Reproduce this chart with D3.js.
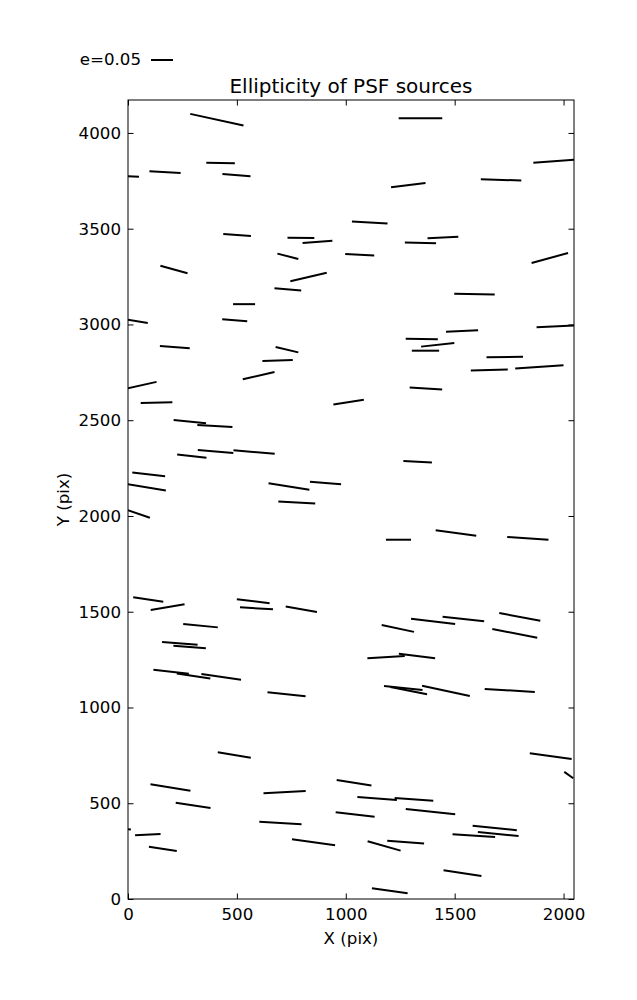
<!DOCTYPE html>
<html><head><meta charset="utf-8">
<script src="https://cdn.jsdelivr.net/npm/d3@7"></script>
<style>body{margin:0;background:#fff}svg{display:block}text{font-family:"DejaVu Sans",sans-serif;fill:#000}</style>
</head><body><div id="chart"></div>
<script>
// Whisker data: centre X, centre Y (pix), ellipticity e, position angle (deg, CCW from +X)
const xs = [408,1343,425,170,498,5,1110,1287,1713,1960,501,794,870,734,1064,211,829,734,533,23,490,215,730,687,1446,1343,1937,1591,1973,1534,1349,1422,1366,1730,1659,1889,64,600,131,1013,284,399,402,579,293,95,83,739,907,775,1368,1330,46,93,182,575,590,796,333,1242,1506,1836,1239,1401,1540,1799,1776,238,283,198,301,428,728,488,1185,1327,1264,1289,1460,1753,1941,2024,195,299,719,1038,1043,700,91,-12,160,852,1144,1313,1389,1176,1275,1684,1700,1588,1536,1202];
const ys = [4069,4077,3843,3795,3780,3774,3532,3728,3755,3853,3467,3452,3431,3356,3364,3287,3248,3183,3106,3020,3022,2882,2868,2812,3454,3426,3347,3158,2991,2966,2924,2894,2863,2830,2762,2779,2683,2733,2592,2594,2493,2470,2337,2334,2312,2217,2150,2154,2172,2070,2665,2283,2012,1564,1524,1555,1518,1513,1427,1876,1911,1883,1413,1450,1462,1473,1387,1335,1316,1187,1164,1160,1069,752,1263,1269,1102,1088,1087,1089,746,647,582,489,558,607,441,397,336,366,262,296,525,520,456,277,297,371,339,331,135,43];
const es = [0.124,0.099,0.065,0.071,0.064,0.045,0.081,0.079,0.092,0.098,0.063,0.061,0.068,0.049,0.066,0.064,0.085,0.061,0.050,0.068,0.057,0.068,0.053,0.069,0.070,0.071,0.086,0.092,0.096,0.073,0.073,0.076,0.062,0.083,0.084,0.110,0.068,0.074,0.072,0.070,0.074,0.080,0.081,0.094,0.067,0.075,0.091,0.094,0.071,0.084,0.074,0.065,0.057,0.069,0.078,0.075,0.075,0.072,0.079,0.057,0.093,0.094,0.075,0.101,0.095,0.095,0.104,0.081,0.074,0.081,0.077,0.091,0.087,0.076,0.085,0.083,0.088,0.085,0.111,0.114,0.096,0.025,0.092,0.080,0.096,0.080,0.089,0.096,0.058,0.025,0.064,0.099,0.090,0.088,0.113,0.078,0.084,0.101,0.093,0.097,0.087,0.082];
const angles = [-12.4,0,-1.2,-3.1,-4.7,-3,-3.2,7.1,-2.0,4.1,-4.2,-0.6,4.4,-14.4,-3.4,-15.7,13.3,-5.1,0,-9.2,-4.6,-4.4,-13.1,1.9,3.0,-1.1,15.4,-1.0,2.6,2.5,-0.5,6.4,0,0.9,1.5,3.8,12.7,13.0,1.3,8.8,-5.8,-3.3,-4.8,-4.7,-6.4,-6.3,-9.4,-8.9,-4.7,-3.1,-3.5,-3.4,-18.8,-8.3,9.6,-7.0,-3.5,-9.7,-5.5,0,-7.6,-3.7,-12.2,-6.9,-6.3,-10.6,-10.9,-4.4,-4.6,-6.4,-8.5,-8.2,-6.0,-9.3,3.5,-7.2,-6.0,-11.2,-12.2,-3.4,-7.8,-35,-9.1,-8.7,3.1,-9.3,-6.4,-3.5,2.9,-5,-8.7,-7.9,-4.3,-4.0,-6.1,-15.9,-4.6,-5.9,-5.6,-3.6,-8.5,-8.0];
const xTicks = [0,500,1000,1500,2000];
const yTicks = [0,500,1000,1500,2000,2500,3000,3500,4000];
const keyE = 0.05;
const keyLabel = "e=0.05";
const title = "Ellipticity of PSF sources";
const xLabel = "X (pix)";
const yLabel = "Y (pix)";

const W = 637, H = 1000;
const m = {l:128, t:100, r:574, b:899};
const x = d3.scaleLinear().domain([0,2048]).range([m.l, m.r]);
const y = d3.scaleLinear().domain([0,4172]).range([m.b, m.t]);
const len = d3.scaleLinear().domain([0, keyE]).range([0, 22]);

const svg = d3.select("#chart").append("svg").attr("width", W).attr("height", H);
svg.append("defs").append("clipPath").attr("id","clip")
  .append("rect").attr("x", m.l).attr("y", m.t).attr("width", m.r-m.l).attr("height", m.b-m.t);

const data = xs.map((v,i)=>({x:v, y:ys[i], e:es[i], a:angles[i]}));
const seg = d => {
  const L = len(d.e)/2, r = d.a*Math.PI/180;
  return [x(d.x)-L*Math.cos(r), y(d.y)+L*Math.sin(r), x(d.x)+L*Math.cos(r), y(d.y)-L*Math.sin(r)];
};
svg.append("g").attr("clip-path","url(#clip)").selectAll("line").data(data).join("line")
  .attr("x1", d=>seg(d)[0]).attr("y1", d=>seg(d)[1]).attr("x2", d=>seg(d)[2]).attr("y2", d=>seg(d)[3])
  .attr("stroke","#000").attr("stroke-width",2);

const fs = 16.67, tk = 5.5;
// axes: ticks inward on all four sides
const axB = d3.axisBottom(x).tickValues(xTicks).tickSize(-tk).tickPadding(9).tickFormat(d3.format("d"));
const axT = d3.axisTop(x).tickValues(xTicks).tickSize(-tk).tickFormat("");
const axL = d3.axisLeft(y).tickValues(yTicks).tickSize(-tk).tickPadding(7).tickFormat(d3.format("d"));
const axR = d3.axisRight(y).tickValues(yTicks).tickSize(-tk).tickFormat("");
function style(g){ g.select(".domain").remove(); g.selectAll("line").attr("stroke","#000").attr("stroke-width",1);
  g.selectAll("text").style("font-size", fs+"px").style("font-family","DejaVu Sans"); }
svg.append("g").attr("transform",`translate(0,${m.b})`).call(axB).call(style);
svg.append("g").attr("transform",`translate(0,${m.t})`).call(axT).call(style);
svg.append("g").attr("transform",`translate(${m.l},0)`).call(axL).call(style);
svg.append("g").attr("transform",`translate(${m.r},0)`).call(axR).call(style);
svg.append("rect").attr("x", m.l).attr("y", m.t).attr("width", m.r-m.l).attr("height", m.b-m.t)
  .attr("fill","none").attr("stroke","#000").attr("stroke-width",1);

svg.append("text").attr("x",(m.l+m.r)/2).attr("y",93).attr("text-anchor","middle").style("font-size","20px").text(title);
svg.append("text").attr("x",(m.l+m.r)/2).attr("y",944).attr("text-anchor","middle").style("font-size",fs+"px").text(xLabel);
svg.append("text").attr("transform",`translate(69,${(m.t+m.b)/2}) rotate(-90)`).attr("text-anchor","middle").style("font-size",fs+"px").text(yLabel);

// key
svg.append("text").attr("x",141).attr("y",65).attr("text-anchor","end").style("font-size",fs+"px").text(keyLabel);
svg.append("line").attr("x1",151).attr("x2",151+len(keyE)).attr("y1",60).attr("y2",60).attr("stroke","#000").attr("stroke-width",2);
</script></body></html>
